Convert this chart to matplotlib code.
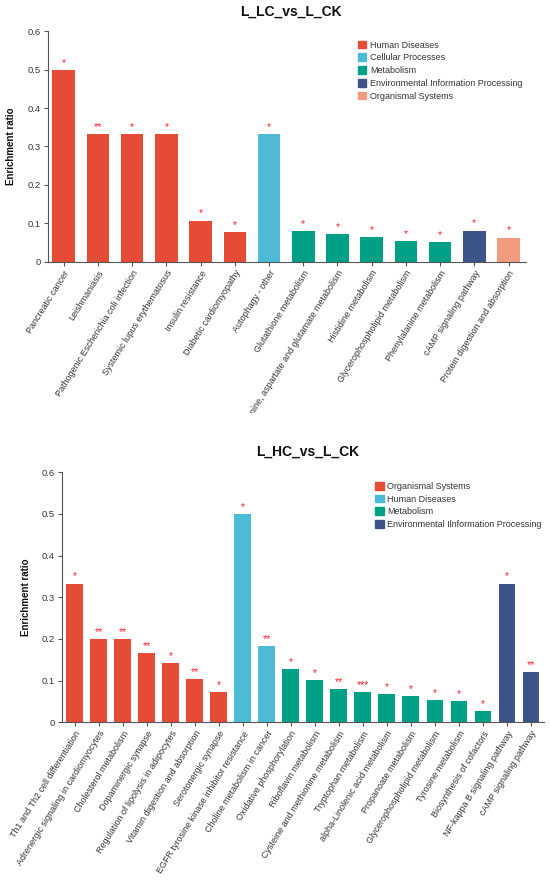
import matplotlib.pyplot as plt
from matplotlib.patches import Patch
from matplotlib.transforms import Bbox, TransformedBbox

plt.rcParams['font.family'] = ['Liberation Sans', 'DejaVu Sans']

# colours per category
colors = {
    'red': '#E64B35',
    'cyan': '#4DBBD5',
    'green': '#00A087',
    'navy': '#3C5488',
    'salmon': '#F39B7F',
}

# ---- L_LC_vs_L_CK ----
top_terms = [
    'Pancreatic cancer', 'Leishmaniasis', 'Pathogenic Escherichia coli infection',
    'Systemic lupus erythematosus', 'Insulin resistance', 'Diabetic cardiomyopathy',
    'Autophagy - other', 'Glutathione metabolism',
    'Alanine, aspartate and glutamate metabolism', 'Histidine metabolism',
    'Glycerophospholipid metabolism', 'Phenylalanine metabolism',
    'cAMP signaling pathway', 'Protein digestion and absorption',
]
top_values = [0.5, 0.333, 0.333, 0.333, 0.107, 0.077, 0.333, 0.080, 0.072,
              0.064, 0.054, 0.050, 0.081, 0.063]
top_stars = ['*', '**', '*', '*', '*', '*', '*', '*', '*', '*', '*', '*', '*', '*']
top_groups = ['red'] * 6 + ['cyan'] + ['green'] * 5 + ['navy', 'salmon']
top_legend = ['Human Diseases', 'Cellular Processes', 'Metabolism',
              'Environmental Information Processing', 'Organismal Systems']
top_legend_colors = ['red', 'cyan', 'green', 'navy', 'salmon']

# ---- L_HC_vs_L_CK ----
bot_terms = [
    'Th1 and Th2 cell differentiation', 'Adrenergic signaling in cardiomyocytes',
    'Cholesterol metabolism', 'Dopaminergic synapse',
    'Regulation of lipolysis in adipocytes', 'Vitamin digestion and absorption',
    'Serotonergic synapse', 'EGFR tyrosine kinase inhibitor resistance',
    'Choline metabolism in cancer', 'Oxidative phosphorylation',
    'Riboflavin metabolism', 'Cysteine and methionine metabolism',
    'Tryptophan metabolism', 'alpha-Linolenic acid metabolism',
    'Propanoate metabolism', 'Glycerophospholipid metabolism',
    'Tyrosine metabolism', 'Biosynthesis of cofactors',
    'NF-kappa B signaling pathway', 'cAMP signaling pathway',
]
bot_values = [0.333, 0.2, 0.2, 0.167, 0.143, 0.104, 0.072, 0.5, 0.183, 0.127,
              0.101, 0.079, 0.073, 0.068, 0.062, 0.053, 0.051, 0.027, 0.333, 0.12]
bot_stars = ['*', '**', '**', '**', '*', '**', '*', '*', '**', '*',
             '*', '**', '***', '*', '*', '*', '*', '*', '*', '**']
bot_groups = ['red'] * 7 + ['cyan'] * 2 + ['green'] * 9 + ['navy'] * 2
bot_legend = ['Organismal Systems', 'Human Diseases', 'Metabolism',
              'Environmental Ilnformation Processing']
bot_legend_colors = ['red', 'cyan', 'green', 'navy']

W, H = 550, 886
fig = plt.figure(figsize=(W / 100, H / 100), dpi=100)

txt_color = '#333333'


def draw(ax, terms, values, stars, groups, xlim, bar_w):
    x = list(range(len(terms)))
    ax.bar(x, values, width=bar_w, color=[colors[g] for g in groups], zorder=2)
    for xi, v, s in zip(x, values, stars):
        ax.annotate(s, (xi, v), xytext=(0, 1.5), textcoords='offset points',
                    ha='center', va='bottom', color='#FF1F2F', fontsize=7.5)
    ax.set_xlim(*xlim)
    ax.set_ylim(0, 0.6)
    ax.set_yticks([0, 0.1, 0.2, 0.3, 0.4, 0.5, 0.6])
    ax.set_yticklabels(['0', '0.1', '0.2', '0.3', '0.4', '0.5', '0.6'])
    ax.set_xticks(x)
    ax.set_xticklabels(terms, rotation=58, ha='right', rotation_mode='anchor')
    for sp in ['top', 'right']:
        ax.spines[sp].set_visible(False)
    for sp in ['left', 'bottom']:
        ax.spines[sp].set_color('#555555')
        ax.spines[sp].set_linewidth(0.8)
    ax.tick_params(axis='both', length=3, width=0.8, color='#555555',
                   labelsize=6.8, labelcolor=txt_color, pad=2)
    ax.tick_params(axis='x', labelsize=6.5)
    ax.set_ylabel('Enrichment ratio', fontsize=7, fontweight='bold', color='#111111')


# top chart
ax1 = fig.add_axes([47.7 / W, 1 - 261.7 / H, (526 - 47.7) / W, (261.7 - 31.3) / H])
draw(ax1, top_terms, top_values, top_stars, top_groups, (-0.47, 13.51), 0.66)
ax1.yaxis.set_label_coords(15.7 / W, 1 - 146.5 / H, transform=fig.transFigure)
fig.text(290.8 / W, 1 - 12 / H, 'L_LC_vs_L_CK', ha='center', va='center',
         fontsize=10, fontweight='bold', color='#111111')
fig.legend(handles=[Patch(color=colors[c]) for c in top_legend_colors],
           labels=top_legend, loc='upper left',
           bbox_to_anchor=(357.7 / W, 1 - 40.5 / H), frameon=False,
           fontsize=6.5, borderpad=0, borderaxespad=0, handlelength=0.95,
           handleheight=0.95, handletextpad=0.4, labelspacing=0.42,
           labelcolor=txt_color)

# the long label is cut off where the second panel starts
clip = TransformedBbox(Bbox([[0, 1 - 413 / H], [1, 1]]), fig.transFigure)
for lbl in ax1.get_xticklabels():
    lbl.set_clip_box(clip)
    lbl.set_clip_on(True)

# bottom chart
ax2 = fig.add_axes([62 / W, 1 - 722.3 / H, (544 - 62) / W, (722.3 - 472.3) / H])
draw(ax2, bot_terms, bot_values, bot_stars, bot_groups, (-0.53, 19.55), 0.69)
ax2.yaxis.set_label_coords(30.8 / W, 1 - 597.3 / H, transform=fig.transFigure)
fig.text(307.5 / W, 1 - 452 / H, 'L_HC_vs_L_CK', ha='center', va='center',
         fontsize=10, fontweight='bold', color='#111111')
fig.legend(handles=[Patch(color=colors[c]) for c in bot_legend_colors],
           labels=bot_legend, loc='upper left',
           bbox_to_anchor=(375 / W, 1 - 481.8 / H), frameon=False,
           fontsize=6.5, borderpad=0, borderaxespad=0, handlelength=0.95,
           handleheight=0.95, handletextpad=0.4, labelspacing=0.42,
           labelcolor=txt_color)

fig.savefig('out.png', dpi=100)
